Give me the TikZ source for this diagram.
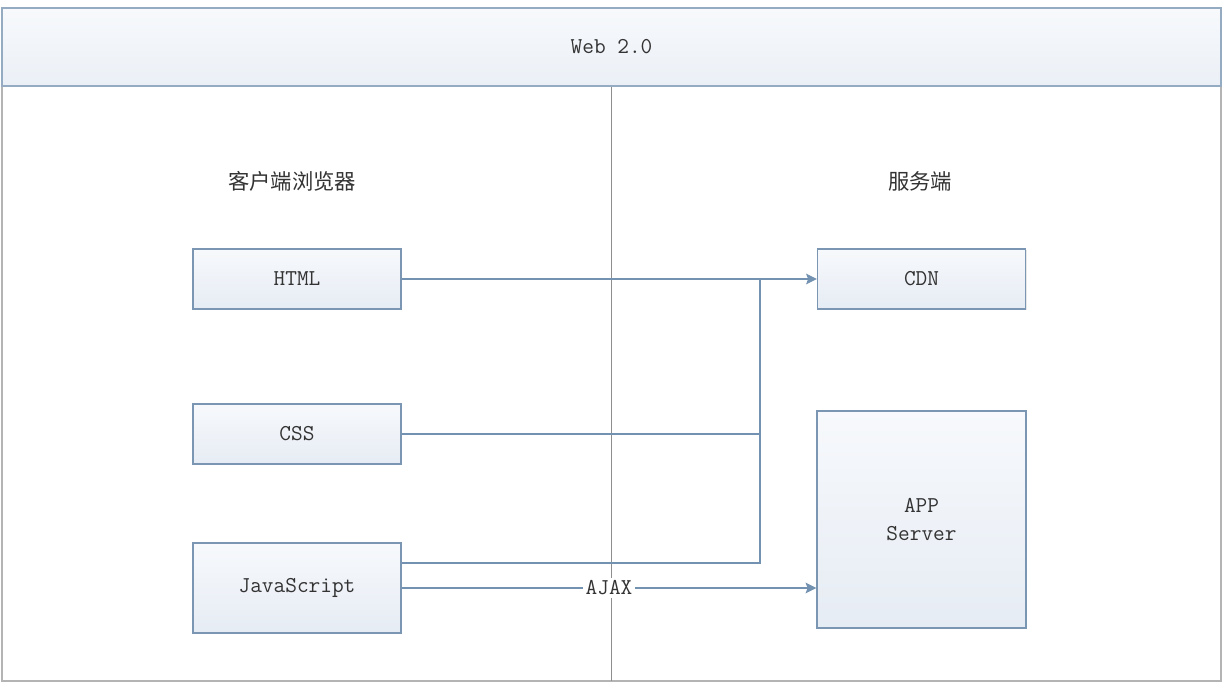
\documentclass[tikz,border=0pt]{standalone}
\usepackage{fontspec}
\newfontfamily\cjk{Noto Sans CJK SC}
\usetikzlibrary{arrows.meta,shadows}
\definecolor{boxline}{HTML}{7B96B3}
\definecolor{conn}{HTML}{7391B0}
\definecolor{boxtop}{HTML}{F7F9FC}
\definecolor{boxbot}{HTML}{E6ECF4}
\definecolor{framegray}{HTML}{B4B4B4}
\definecolor{divgray}{HTML}{8E8E8E}
\definecolor{txt}{HTML}{333333}
\newcommand\monofont{\ttfamily\fontsize{17}{21}\selectfont}
\tikzset{
  box/.style={draw=boxline, line width=1.1pt, top color=boxtop, bottom color=boxbot,
    minimum width=156pt, minimum height=45pt, inner sep=0pt, align=center,
    font=\monofont, text=txt,
    drop shadow={opacity=0.18, shadow xshift=1pt, shadow yshift=-1pt}},
  header/.style={draw=boxline!80, line width=1pt, top color=boxtop, bottom color=boxbot!80,
    minimum width=914.25pt, minimum height=58.5pt, inner sep=0pt,
    font=\monofont, text=txt},
  conn/.style={draw=conn, line width=1.1pt},
  arr/.style={conn, -{Stealth[length=8pt,width=8pt,inset=1.5pt]}},
  cjklabel/.style={font=\cjk\fontsize{16}{20}\selectfont, text=txt}
}
\begin{document}
\begin{tikzpicture}[x=0.75pt,y=-0.75pt]
\useasboundingbox (0,0) rectangle (1226,692);
% lower frame
\draw[framegray, line width=1.6pt] (2,86) -- (2,681) -- (1221,681) -- (1221,86);
\node[header] (hdr) at (611.5,47) {Web 2.0};
\coordinate (divbot) at (612,681);
\draw[divgray, line width=0.9pt] (hdr.south) -- (hdr.south |- divbot);
% labels
\node[cjklabel] (client) at (292,181) {客户端浏览器};
\node[cjklabel] (server) at (920,181) {服务端};
% boxes
\node[box] (html) at (297,279) {HTML};
\node[box] (css) at (297,434) {CSS};
\node[box, minimum height=67.5pt] (js) at (297,588) {JavaScript};
\node[box] (cdn) at (921.5,279) {CDN};
\node[box, minimum width=156.75pt, minimum height=162.75pt] (app) at (921.5,519.5) {APP\\Server};
% connectors
\coordinate (jtop) at (760,279);
\coordinate (jcss) at (760,434);
\coordinate (jjs) at (760,563);
\draw[arr] (html.east) -- (cdn.west);
\draw[conn] (css.east) -- (jcss);
\draw[conn] (js.east |- jjs) -- (jjs) -- (jtop);
\draw[arr] (js.east) -- node[fill=white, inner sep=2pt, font=\monofont, text=txt] (ajax) {AJAX} (js.east -| app.west);
\end{tikzpicture}
\end{document}
